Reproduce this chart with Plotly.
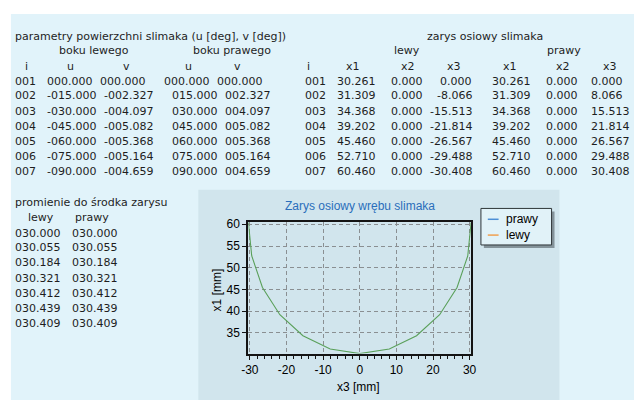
import plotly.graph_objects as go

W, H = 639, 400

# ---------------- data ----------------
idx = ["001", "002", "003", "004", "005", "006", "007"]
u_lewy = [0.000, -15.000, -30.000, -45.000, -60.000, -75.000, -90.000]
v_lewy = [0.000, -2.327, -4.097, -5.082, -5.368, -5.164, -4.659]
u_prawy = [0.000, 15.000, 30.000, 45.000, 60.000, 75.000, 90.000]
v_prawy = [0.000, 2.327, 4.097, 5.082, 5.368, 5.164, 4.659]

x1_lewy = [30.261, 31.309, 34.368, 39.202, 45.460, 52.710, 60.460]
x2_lewy = [0.000, 0.000, 0.000, 0.000, 0.000, 0.000, 0.000]
x3_lewy = [0.000, -8.066, -15.513, -21.814, -26.567, -29.488, -30.408]
x1_prawy = [30.261, 31.309, 34.368, 39.202, 45.460, 52.710, 60.460]
x2_prawy = [0.000, 0.000, 0.000, 0.000, 0.000, 0.000, 0.000]
x3_prawy = [0.000, 8.066, 15.513, 21.814, 26.567, 29.488, 30.408]

r_lewy = [30.000, 30.055, 30.184, 30.321, 30.412, 30.439, 30.409]
r_prawy = [30.000, 30.055, 30.184, 30.321, 30.412, 30.439, 30.409]

x_ticks = [-30, -20, -10, 0, 10, 20, 30]
y_ticks = [35, 40, 45, 50, 55, 60]

# ---------------- helpers ----------------
def px(x):
    return x / W

def py(y):
    return 1 - y / H

TXT_FONT = dict(family="DejaVu Sans", size=11, color="#1e1e1e")
CH_FONT = dict(family="Liberation Sans, Arial", size=12, color="#000000")

annotations = []

def text(x, y, s, anchor="left", font=TXT_FONT, **kw):
    annotations.append(dict(
        x=px(x), y=py(y), xref="paper", yref="paper", text=s, showarrow=False,
        xanchor=anchor, yanchor="middle", font=font, borderpad=0, borderwidth=0, **kw))

def f_pad(v):
    return f"{v:0{8 if v < 0 else 7}.3f}"

ROW_Y = [77, 92, 107.5, 123, 138, 153.5, 169]

# ---- left table ----
text(8, 32, "parametry powierzchni slimaka (u [deg], v [deg])")
text(89, 46, "boku lewego", "center")
text(229, 46, "boku prawego", "center")
for xx, s in [(20, "i"), (65, "u"), (122, "v"), (185, "u"), (235, "v")]:
    text(xx, 62, s, "center")
MINUS_W = 4.2
base_x = [41, 95, 160, 214]
for r in range(7):
    text(8, ROW_Y[r], idx[r])
    cells = [f_pad(u_lewy[r]), f_pad(v_lewy[r]), f_pad(u_prawy[r]), f_pad(v_prawy[r])]
    shift = 0
    for c, s in enumerate(cells):
        text(base_x[c] + shift, ROW_Y[r], s)
        shift += MINUS_W * s.count("-")

# ---- right table ----
text(487, 32, "zarys osiowy slimaka", "center")
text(408, 46, "lewy", "center")
text(568, 46, "prawy", "center")
for xx, s in [(307, "i"), (353, "x1"), (409, "x2"), (456, "x3"),
              (513, "x1"), (567, "x2"), (615, "x3")]:
    text(xx, 62, s, "center")
for r in range(7):
    text(304, ROW_Y[r], idx[r])
    text(336, ROW_Y[r], f"{x1_lewy[r]:.3f}")
    text(391, ROW_Y[r], f"{x2_lewy[r]:.3f}")
    text(474, ROW_Y[r], f"{x3_lewy[r]:.3f}", "right")
    text(494, ROW_Y[r], f"{x1_prawy[r]:.3f}")
    text(549, ROW_Y[r], f"{x2_prawy[r]:.3f}")
    text(595, ROW_Y[r], f"{x3_prawy[r]:.3f}")

# ---- radii table ----
text(8, 200, "promienie do środka zarysu")
text(35, 215, "lewy", "center")
text(87, 215, "prawy", "center")
R_Y = [231, 246, 261, 277, 292, 307, 323]
for r in range(7):
    text(8, R_Y[r], f"{r_lewy[r]:07.3f}")
    text(66, R_Y[r], f"{r_prawy[r]:07.3f}")

# ---- chart texts ----
text(360, 204, "Zarys osiowy wrębu slimaka", "center",
     font=dict(family="Liberation Sans, Arial", size=12, color="#2a6ebb"))
text(358, 387, "x3 [mm]", "center", font=CH_FONT)
text(214, 288, "x1 [mm]", "center", font=CH_FONT, textangle=-90)
text(509, 217, "prawy", "left", font=CH_FONT)
text(509, 233, "lewy", "left", font=CH_FONT)

# ---------------- shapes ----------------
def rect(x0, y0, x1, y1, fill, line=None, lw=0, layer="below"):
    return dict(type="rect", xref="paper", yref="paper",
                x0=px(x0), x1=px(x1), y0=py(y1), y1=py(y0),
                fillcolor=fill, line=dict(color=line or fill, width=lw), layer=layer)

shapes = [
    rect(4, 9, 639, 400, "#e1f3fa"),
    rect(195, 187, 563, 400, "#d1e5ed"),
    rect(486, 209, 558, 246, "rgba(70,80,85,0.55)", layer="above"),
    rect(483, 206, 555, 243, "#e1f2f8", line="#2e3538", lw=1, layer="above"),
    dict(type="line", xref="paper", yref="paper", x0=px(490), x1=px(501),
         y0=py(217), y1=py(217), line=dict(color="#4d8fd6", width=1.5)),
    dict(type="line", xref="paper", yref="paper", x0=px(490), x1=px(501),
         y0=py(233), y1=py(233), line=dict(color="#f0a050", width=1.5)),
]

# ---------------- figure ----------------
fig = go.Figure()
fig.add_trace(go.Scatter(x=x3_prawy, y=x1_prawy, mode="lines", name="prawy",
                         line=dict(color="#5aa05a", width=1.1), showlegend=False))
fig.add_trace(go.Scatter(x=x3_lewy, y=x1_lewy, mode="lines", name="lewy",
                         line=dict(color="#5aa05a", width=1.1), showlegend=False))

axis_common = dict(
    showline=True, mirror=True, linecolor="#141414", linewidth=2,
    showgrid=True, gridcolor="#8a8f92", gridwidth=1, griddash="4px,3px",
    zeroline=False, ticks="outside", ticklen=4, tickcolor="#141414", tickwidth=1,
    tickfont=CH_FONT,
)

fig.update_layout(
    width=W, height=H, margin=dict(l=0, r=0, t=0, b=0),
    paper_bgcolor="#ffffff", plot_bgcolor="rgba(0,0,0,0)",
    showlegend=False,
    xaxis=dict(domain=[px(246), px(473)], range=[min(x3_lewy), max(x3_prawy)],
               tickvals=x_ticks, ticktext=[str(v) for v in x_ticks],
               minor=dict(dtick=2, ticks="outside", ticklen=3, tickcolor="#141414",
                          showgrid=False),
               **axis_common),
    yaxis=dict(domain=[py(353), py(220)], range=[min(x1_lewy), max(x1_lewy)],
               tickvals=y_ticks, ticktext=[str(v) for v in y_ticks],
               **axis_common),
    shapes=shapes,
    annotations=annotations,
)

fig.write_html("out.html",
               config={"displayModeBar": False},
               post_script="document.body.style.margin='0px';document.body.style.overflow='hidden';")
